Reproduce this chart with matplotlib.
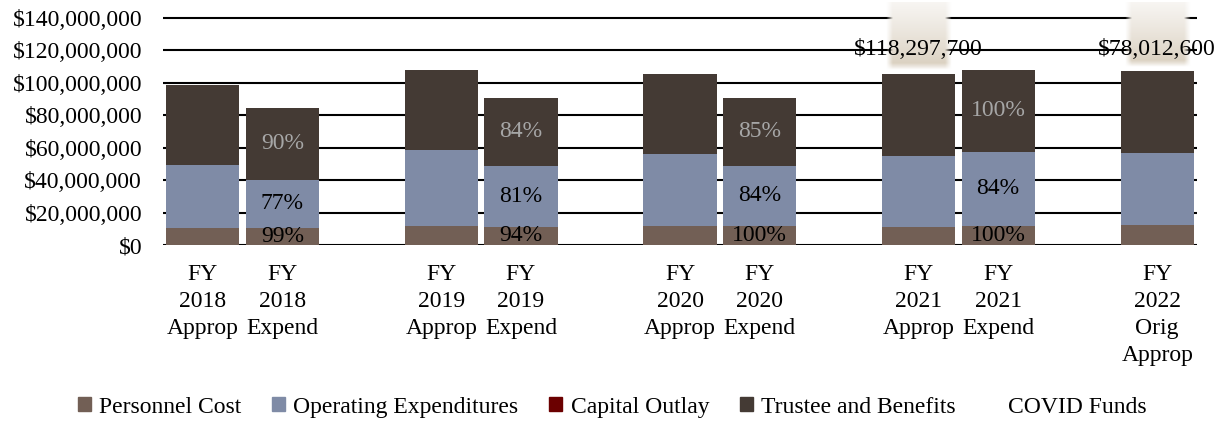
import numpy as np
import matplotlib
matplotlib.use("Agg")
import matplotlib.pyplot as plt
from matplotlib.patches import Patch
from matplotlib.ticker import FuncFormatter

plt.rcParams['font.family'] = ['Liberation Serif', 'DejaVu Serif']

# data (dollars, millions)
labels = ['FY\n2018\nApprop', 'FY\n2018\nExpend', 'FY\n2019\nApprop', 'FY\n2019\nExpend',
          'FY\n2020\nApprop', 'FY\n2020\nExpend', 'FY\n2021\nApprop', 'FY\n2021\nExpend',
          'FY\n2022\nOrig\nApprop']
personnel = [10.5, 10.5, 11.9, 11.3, 11.9, 11.9, 11.3, 11.9, 12.3]
operating = [38.9, 29.6, 46.7, 37.4, 44.2, 36.8, 43.6, 45.5, 44.3]
capital = [0.2, 0.2, 0.2, 0.2, 0.2, 0.2, 0.2, 0.2, 0.2]
trustee = [49.3, 44.4, 49.4, 42.0, 49.4, 42.0, 50.6, 50.6, 50.7]
covid = [0, 0, 0, 0, 0, 0, 118.2977, 0, 78.0126]

# percent spent labels on the expend bars
pct_personnel = {1: '99%', 3: '94%', 5: '100%', 7: '100%'}
pct_operating = {1: '77%', 3: '81%', 5: '84%', 7: '84%'}
pct_trustee = {1: '90%', 3: '84%', 5: '85%', 7: '100%'}

c_pers = '#725f55'
c_oper = '#7f8ba6'
c_cap = '#6b0000'
c_trus = '#443a34'
fs = 17

fig = plt.figure(figsize=(12.17, 4.21), dpi=100)
ax = fig.add_axes([163/1217, 1-245/421, 1034/1217, 243.2/421])

n = len(labels)
x = np.array([i + i // 2 for i in range(n)], dtype=float)  # gap after each pair
w = 0.92
pers = np.array(personnel) * 1e6
oper = np.array(operating) * 1e6
cap = np.array(capital) * 1e6
trus = np.array(trustee) * 1e6
cov = np.array(covid) * 1e6

ax.bar(x, pers, w, color=c_pers, zorder=2)
ax.bar(x, oper, w, bottom=pers, color=c_oper, zorder=2)
ax.bar(x, cap, w, bottom=pers+oper, color=c_cap, zorder=2)
ax.bar(x, trus, w, bottom=pers+oper+cap, color=c_trus, zorder=2)
total = pers + oper + cap + trus

ymax = 150e6

# covid funds: soft-edged gradient bar, clipped at the top of the plot
top_col = np.array([248, 246, 243]) / 255
bot_col = np.array([214, 203, 185]) / 255
for xi, base, cv in zip(x, total, cov):
    if cv <= 0:
        continue
    top = min(base + cv, ymax)
    ny, nx = 120, 80
    t = np.linspace(1, 0, ny)[:, None]          # 1 at top row
    col = bot_col + (top_col - bot_col) * (t ** 0.8)[..., None]
    col = np.broadcast_to(col, (ny, nx, 3))
    u = np.linspace(0, 1, nx)[None, :]
    ax_edge = np.clip(np.minimum(u, 1 - u) / 0.1, 0, 1)
    v = np.linspace(1, 0, ny)[:, None]
    ay_edge = np.clip(v / 0.1, 0, 1)
    alpha = np.broadcast_to(ax_edge * ay_edge, (ny, nx))
    img = np.dstack([col, alpha])
    bw = 0.82
    ax.imshow(img, extent=(xi - bw/2, xi + bw/2, base + 2e6, top), aspect='auto',
              zorder=2.5, interpolation='bilinear')
    ax.text(xi, 120.5e6, '${:,.0f}'.format(cv), ha='center', va='center',
            fontsize=fs, color='black', zorder=4)
ax.set_xlim(-0.5, 12.5)
ax.set_ylim(0, ymax)

for i, s in pct_personnel.items():
    ax.text(x[i], pers[i] / 2, s, ha='center', va='center', fontsize=fs, color='black', zorder=4)
for i, s in pct_operating.items():
    ax.text(x[i], pers[i] + oper[i] / 2, s, ha='center', va='center', fontsize=fs, color='black', zorder=4)
for i, s in pct_trustee.items():
    ax.text(x[i], pers[i] + oper[i] + cap[i] + trus[i] / 2, s, ha='center', va='center',
            fontsize=fs, color='#a6a6a6', zorder=4)

ax.set_yticks(np.arange(0, 140e6 + 1, 20e6))
ax.yaxis.set_major_formatter(FuncFormatter(lambda v, p: '${:,.0f}'.format(v)))
ax.grid(axis='y', color='black', linewidth=1.5)
ax.set_axisbelow(True)
ax.set_xticks(x)
ax.set_xticklabels(labels, linespacing=1.36)
ax.tick_params(axis='y', length=0, pad=15, labelsize=fs)
ax.tick_params(axis='x', length=0, pad=14, labelsize=fs)
for sp in ax.spines.values():
    sp.set_visible(False)

handles = [Patch(color=c_pers), Patch(color=c_oper), Patch(color=c_cap),
           Patch(color=c_trus), Patch(color='white')]
names = ['Personnel Cost', 'Operating Expenditures', 'Capital Outlay',
         'Trustee and Benefits', 'COVID Funds']
fig.legend(handles, names, loc='center', bbox_to_anchor=(0.503, 0.033), ncol=5,
           frameon=False, fontsize=fs, handlelength=0.55, handleheight=0.55,
           handletextpad=0.35, columnspacing=1.3)

fig.savefig('out.png', dpi=100)
